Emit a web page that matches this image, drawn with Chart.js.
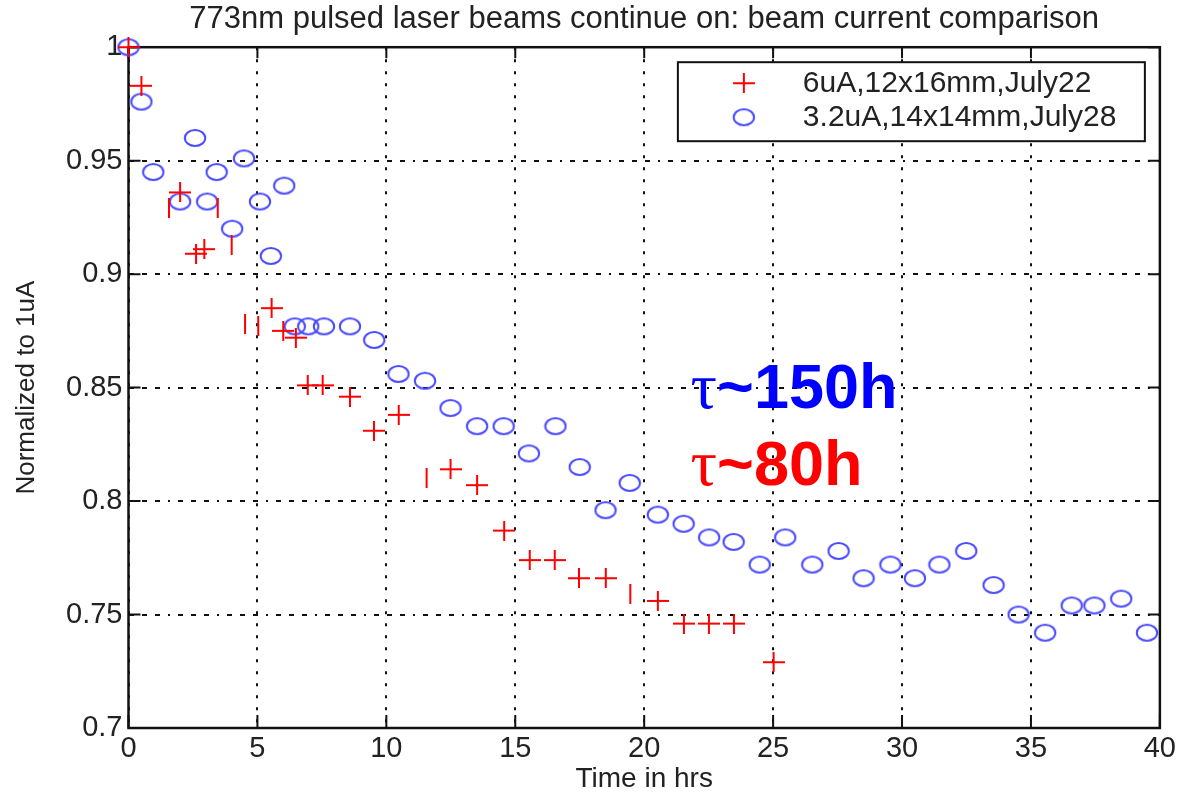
<!DOCTYPE html>
<html>
<head>
<meta charset="utf-8">
<script src="https://cdn.jsdelivr.net/npm/chart.js@4.4.1/dist/chart.umd.min.js"></script>
<style>
  html, body { margin: 0; padding: 0; background: #fff; }
  #wrap { width: 1180px; height: 793px; }
</style>
</head>
<body>
<div id="wrap"><canvas id="c" width="1180" height="793"></canvas></div>
<script>
// Run of July 22: 6 uA beam, 12x16 mm spot
const hours6uA = [0, 0.5, 1.57, 2.0, 2.62, 2.94, 3.46, 4.0, 4.52, 5.03,
  5.55, 6.0, 6.49, 6.95, 7.53, 8.59, 9.52, 10.48, 11.56, 12.49,
  13.52, 14.57, 15.56, 16.53, 17.47, 18.51, 19.46, 20.53, 21.54, 22.51,
  23.48, 25.02];
const current6uA = [1.000, 0.983, 0.929, 0.936, 0.909, 0.911, 0.929, 0.913, 0.878, 0.877,
  0.885, 0.875, 0.872, 0.851, 0.851, 0.846, 0.831, 0.838, 0.810, 0.814,
  0.807, 0.787, 0.774, 0.774, 0.766, 0.766, 0.759, 0.756, 0.746, 0.746,
  0.746, 0.729];

// Run of July 28: 3.2 uA beam, 14x14 mm spot
const hours32uA = [0, 0.5, 0.96, 2.0, 2.58, 3.05, 3.42, 4.02, 4.48, 5.1,
  5.52, 6.04, 6.45, 6.97, 7.58, 8.59, 9.53, 10.47, 11.5, 12.49,
  13.52, 14.55, 15.53, 16.56, 17.5, 18.5, 19.44, 20.53, 21.53, 22.52,
  23.47, 24.48, 25.47, 26.52, 27.54, 28.51, 29.55, 30.5, 31.45, 32.49,
  33.55, 34.52, 35.55, 36.58, 37.46, 38.5, 39.5];
const current32uA = [1.000, 0.976, 0.945, 0.932, 0.960, 0.932, 0.945, 0.920, 0.951, 0.932,
  0.908, 0.939, 0.877, 0.877, 0.877, 0.877, 0.871, 0.856, 0.853, 0.841,
  0.833, 0.833, 0.821, 0.833, 0.815, 0.796, 0.808, 0.794, 0.790, 0.784,
  0.782, 0.772, 0.784, 0.772, 0.778, 0.766, 0.772, 0.766, 0.772, 0.778,
  0.763, 0.750, 0.742, 0.754, 0.754, 0.757, 0.742];

const seriesLabels = ['6uA,12x16mm,July22', '3.2uA,14x14mm,July28'];

const xTicks = [0, 5, 10, 15, 20, 25, 30, 35, 40];
const xTickLabels = ['0', '5', '10', '15', '20', '25', '30', '35', '40'];
const yTicks = [0.7, 0.75, 0.8, 0.85, 0.9, 0.95, 1];
const yTickLabels = ['0.7', '0.75', '0.8', '0.85', '0.9', '0.95', '1'];

// Fitted lifetimes written on the plot
const lifetimeNotes = [
  { text: '150h', hours: 21.8, level: 0.8412, color: '#0000ff' },
  { text: '80h', hours: 21.8, level: 0.8073, color: '#ff0000' }
];

const FONT = "'Liberation Sans', Arial, Helvetica, sans-serif";
const INK = '#222';

// Marker glyphs (slightly wider than tall)
function makeMarker(w, h, draw) {
  const c = document.createElement('canvas');
  c.width = w; c.height = h;
  draw(c.getContext('2d'), w, h);
  return c;
}
const plusMark = makeMarker(22, 20, g => {
  g.strokeStyle = '#ff0000'; g.lineWidth = 2;
  g.beginPath();
  g.moveTo(0, 10); g.lineTo(22, 10);
  g.moveTo(11, 0); g.lineTo(11, 20);
  g.stroke();
});
const stemMark = makeMarker(4, 20, g => {
  g.strokeStyle = '#ff0000'; g.lineWidth = 2;
  g.beginPath(); g.moveTo(2, 0); g.lineTo(2, 20); g.stroke();
});
const ringMark = makeMarker(24, 20, g => {
  g.strokeStyle = '#4c4cff'; g.lineWidth = 2;
  g.beginPath(); g.ellipse(12, 10, 10.2, 8, 0, 0, Math.PI * 2); g.stroke();
});
// points of the 6 uA run whose cross lost its horizontal arm
const stemOnly = new Set([2, 6, 7, 8, 9, 18, 26]);

const framePlugin = {
  id: 'frame',
  beforeDatasetsDraw(chart) {
    const { ctx, chartArea: a, scales: { x, y } } = chart;
    ctx.save();
    ctx.strokeStyle = '#111';
    ctx.lineWidth = 2.5;
    ctx.strokeRect(a.left, a.top, a.right - a.left, a.bottom - a.top);
    ctx.lineWidth = 2;
    ctx.beginPath();
    xTicks.forEach(v => {
      const px = x.getPixelForValue(v);
      ctx.moveTo(px, a.bottom); ctx.lineTo(px, a.bottom - 13);
      ctx.moveTo(px, a.top); ctx.lineTo(px, a.top + 11);
    });
    yTicks.forEach(v => {
      const py = y.getPixelForValue(v);
      ctx.moveTo(a.left, py); ctx.lineTo(a.left + 12, py);
      ctx.moveTo(a.right, py); ctx.lineTo(a.right - 12, py);
    });
    ctx.stroke();
    ctx.restore();
  }
};

const legendBoxPlugin = {
  id: 'legendBox',
  afterDatasetsDraw(chart) {
    const { ctx, chartArea: a } = chart;
    const w = 467, h = 79;
    const left = a.right - 15 - w, top = a.top + 15;
    ctx.save();
    ctx.fillStyle = '#fff';
    ctx.fillRect(left, top, w, h);
    ctx.strokeStyle = '#111';
    ctx.lineWidth = 2;
    ctx.strokeRect(left, top, w, h);
    const marks = [plusMark, ringMark];
    ctx.font = '30px ' + FONT;
    ctx.fillStyle = INK;
    ctx.textBaseline = 'middle';
    ctx.textAlign = 'left';
    chart.data.datasets.forEach((ds, i) => {
      const cy = top + 21 + i * 34;
      const m = marks[i];
      ctx.drawImage(m, left + 66 - m.width / 2, cy - m.height / 2);
      ctx.fillText(ds.label, left + 125, cy + 1);
    });
    ctx.restore();
  }
};

const notesPlugin = {
  id: 'lifetimeNotes',
  afterDatasetsDraw(chart) {
    const { ctx, scales: { x, y } } = chart;
    ctx.save();
    ctx.textBaseline = 'alphabetic';
    ctx.textAlign = 'left';
    lifetimeNotes.forEach(n => {
      const px = x.getPixelForValue(n.hours);
      const py = y.getPixelForValue(n.level);
      ctx.fillStyle = n.color;
      ctx.font = "66px 'Liberation Serif', 'DejaVu Serif', serif";
      ctx.fillText('\u03C4', px, py);
      const tw = ctx.measureText('\u03C4').width;
      ctx.font = 'bold 63px ' + FONT;
      ctx.fillText('~' + n.text, px + tw, py);
    });
    ctx.restore();
  }
};

const tickFont = { family: FONT, size: 29 };

new Chart(document.getElementById('c'), {
  type: 'scatter',
  data: {
    datasets: [
      {
        label: seriesLabels[0],
        data: hours6uA.map((t, i) => ({ x: t, y: current6uA[i] })),
        pointStyle: c => (stemOnly.has(c.dataIndex) ? stemMark : plusMark),
        pointRadius: 9,
        clip: false
      },
      {
        label: seriesLabels[1],
        data: hours32uA.map((t, i) => ({ x: t, y: current32uA[i] })),
        pointStyle: ringMark,
        pointRadius: 9,
        clip: false
      }
    ]
  },
  options: {
    responsive: false,
    animation: false,
    events: [],
    layout: { padding: { top: 0, left: 0, right: 19, bottom: 0 } },
    plugins: {
      legend: { display: false },
      tooltip: { enabled: false },
      title: {
        display: true,
        fullSize: false,
        text: '773nm pulsed laser beams continue on: beam current comparison',
        color: INK,
        font: { family: FONT, size: 31, weight: 'normal' },
        padding: { top: 1, bottom: 9 }
      }
    },
    scales: {
      x: {
        type: 'linear',
        min: 0, max: 40,
        afterBuildTicks: s => { s.ticks = xTicks.map(v => ({ value: v })); },
        afterFit: s => { s.height = 65; },
        ticks: {
          callback: (v, i) => xTickLabels[i],
          font: tickFont, color: INK, padding: 4,
          maxRotation: 0, autoSkip: false
        },
        grid: { color: '#111', lineWidth: 2, drawTicks: false },
        border: { display: false, dash: [3, 9] },
        title: {
          display: true, text: 'Time in hrs', color: INK,
          font: { family: FONT, size: 28, lineHeight: 1 },
          padding: { top: 0, bottom: 0 }
        }
      },
      y: {
        type: 'linear',
        min: 0.7, max: 1,
        afterBuildTicks: s => { s.ticks = yTicks.map(v => ({ value: v })); },
        afterFit: s => { s.width = 128.5; },
        ticks: {
          callback: (v, i) => yTickLabels[i],
          font: tickFont, color: INK, padding: 6, autoSkip: false
        },
        grid: { color: '#111', lineWidth: 2, drawTicks: false },
        border: { display: false, dash: [5, 8, 5, 8, 5, 8, 2, 8] },
        title: {
          display: true, text: 'Normalized to 1uA', color: INK,
          font: { family: FONT, size: 26, lineHeight: 1 },
          padding: { top: 14, bottom: 0 }
        }
      }
    }
  },
  plugins: [framePlugin, legendBoxPlugin, notesPlugin]
});
</script>
</body>
</html>
